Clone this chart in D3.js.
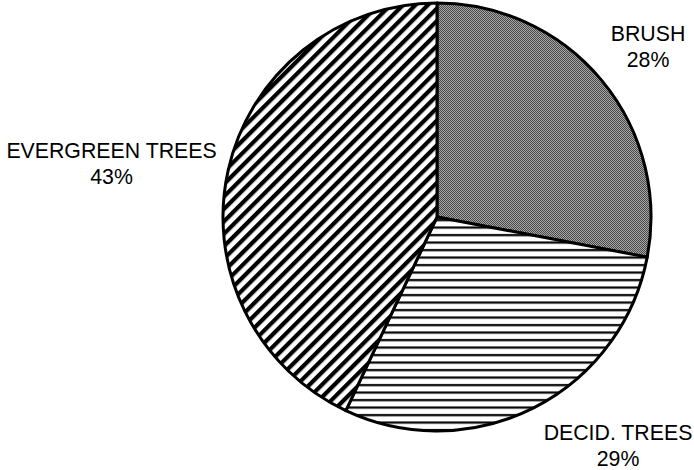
<!DOCTYPE html>
<html>
<head>
<meta charset="utf-8">
<script src="https://cdn.jsdelivr.net/npm/d3@7"></script>
<style>
  html, body { margin: 0; padding: 0; background: #fff; }
  svg { display: block; }
  text { font-family: "Liberation Sans", Arial, sans-serif; fill: #000; }
</style>
</head>
<body>
<svg id="chart" width="694" height="470"></svg>
<script>
// Land cover shares
const categories = ["BRUSH", "DECID. TREES", "EVERGREEN TREES"];
const shares = [28, 29, 43];
const shareLabels = ["28%", "29%", "43%"];

const W = 694, H = 470;
const cx = 437, cy = 217, radius = 214;

const svg = d3.select("#chart");
const defs = svg.append("defs");

// Fine dithered grey for brush
const pBrush = defs.append("pattern")
  .attr("id", "pat-brush").attr("patternUnits", "userSpaceOnUse")
  .attr("width", 2).attr("height", 2);
pBrush.append("rect").attr("width", 2).attr("height", 2).attr("fill", "#a6a6a6");
pBrush.append("rect").attr("x", 0).attr("y", 0).attr("width", 1).attr("height", 1).attr("fill", "#4a4a4a");
pBrush.append("rect").attr("x", 1).attr("y", 1).attr("width", 1).attr("height", 1).attr("fill", "#4a4a4a");

// Horizontal rules for deciduous trees
const pDecid = defs.append("pattern")
  .attr("id", "pat-decid").attr("patternUnits", "userSpaceOnUse")
  .attr("width", 10).attr("height", 7.5);
pDecid.append("rect").attr("width", 10).attr("height", 7.5).attr("fill", "#fff");
pDecid.append("rect").attr("x", 0).attr("y", 2).attr("width", 10).attr("height", 2.2).attr("fill", "#000");

// Diagonal hatching for evergreen trees
const pEver = defs.append("pattern")
  .attr("id", "pat-ever").attr("patternUnits", "userSpaceOnUse")
  .attr("width", 8.8).attr("height", 10)
  .attr("patternTransform", "rotate(45)");
pEver.append("rect").attr("width", 8.8).attr("height", 10).attr("fill", "#fff");
pEver.append("rect").attr("x", 0).attr("y", 0).attr("width", 4.2).attr("height", 10).attr("fill", "#000");

const fills = d3.scaleOrdinal()
  .domain(categories)
  .range(["url(#pat-brush)", "url(#pat-decid)", "url(#pat-ever)"]);

const pie = d3.pie().sort(null).value(d => d.value);
const arcs = pie(categories.map((c, i) => ({ name: c, value: shares[i], label: shareLabels[i] })));
const arc = d3.arc().innerRadius(0).outerRadius(radius);

const g = svg.append("g").attr("transform", `translate(${cx},${cy})`);
g.selectAll("path.slice")
  .data(arcs)
  .join("path")
  .attr("class", "slice")
  .attr("d", arc)
  .attr("fill", d => fills(d.data.name))
  .attr("stroke", "#000")
  .attr("stroke-width", 3)
  .attr("stroke-linejoin", "round");

// Outside labels: name above percentage
const labelAnchor = {
  "BRUSH": [648, 41],
  "DECID. TREES": [618, 440],
  "EVERGREEN TREES": [111.5, 158]
};
const lab = svg.selectAll("g.lbl")
  .data(arcs)
  .join("g")
  .attr("class", "lbl")
  .attr("transform", d => `translate(${labelAnchor[d.data.name][0]},${labelAnchor[d.data.name][1]})`);
lab.append("text")
  .attr("text-anchor", "middle")
  .attr("font-size", 21.3)
  .text(d => d.data.name);
lab.append("text")
  .attr("text-anchor", "middle")
  .attr("font-size", 21.3)
  .attr("y", 26)
  .text(d => d.data.label);
</script>
</body>
</html>
